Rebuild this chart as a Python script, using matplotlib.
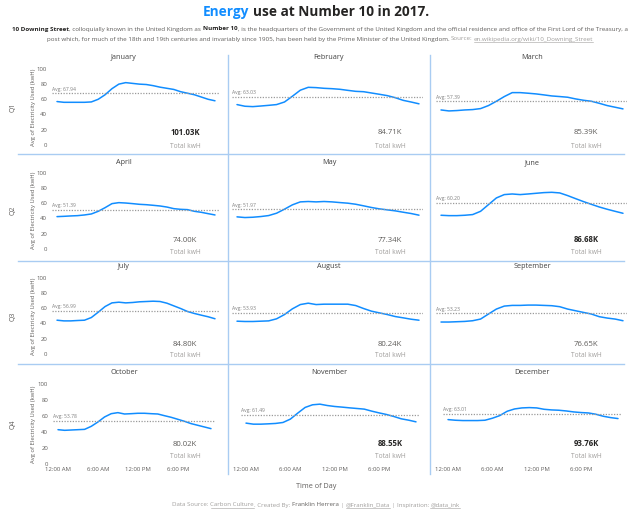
import matplotlib
matplotlib.use("Agg")
import matplotlib.pyplot as plt
from matplotlib.lines import Line2D

plt.rcParams['font.family'] = ['Open Sans', 'DejaVu Sans']

# -------------------------
# Data (hourly average kWh)
# -------------------------
hours = list(range(24))
months = ["January", "February", "March", "April", "May", "June",
          "July", "August", "September", "October", "November", "December"]
quarters = ["Q1", "Q2", "Q3", "Q4"]

jan = [57, 56, 56, 56, 56, 56.5, 60, 66, 74, 80, 82, 81, 80, 79.5, 78, 76, 74.5, 73, 70, 68, 66, 63, 60, 58]
feb = [53, 50.8, 50.3, 51.1, 52, 53, 56.4, 64, 72, 75.8, 75.4, 74.5, 74, 73.2, 71.8, 70.5, 70, 68.3, 66.6, 64.8, 62.1, 58.6, 56.4, 54]
mar = [45.9, 44.6, 45.1, 45.9, 46.4, 47.7, 51.7, 57.4, 63.6, 68.8, 68.8, 68, 67.1, 65.8, 64.4, 63.6, 62.7, 60.5, 58.7, 57.4, 54.7, 51.7, 49.5, 47.3]
apr = [42.2, 42.6, 43.1, 43.5, 44.4, 45.7, 49.2, 54, 59.3, 60.6, 60.1, 59.3, 58.4, 57.9, 57.1, 56.2, 54.8, 52.7, 51.8, 51.4, 49.2, 47.9, 46.1, 44.4]
may = [41.9, 41.0, 41.4, 42.3, 43.6, 46.7, 52, 57.7, 61.6, 62.1, 61.6, 62.1, 61.6, 60.7, 59.9, 58.5, 56.4, 54.2, 52.4, 51.1, 49.8, 48, 46.3, 44.1]
jun = [44, 43.5, 43.5, 44, 44.9, 49.2, 58, 66.8, 71.2, 72, 71.2, 72, 72.9, 73.8, 74.2, 73.4, 69.9, 65.9, 62, 58.4, 54.9, 51.9, 49.2, 46.6]
jul = [44.3, 43.4, 43.4, 43.9, 44.3, 47.8, 54.8, 62.2, 67, 67.9, 67, 67.5, 68.4, 68.8, 69.2, 68.8, 66.6, 63.1, 59.6, 55.7, 53.1, 50.9, 48.8, 46.2]
aug = [43, 42.6, 42.6, 43, 43.4, 46.1, 51.7, 59.2, 64.8, 66.6, 64.8, 65.3, 65.3, 65.3, 65.3, 63.5, 59.6, 56.1, 53.9, 51.7, 49.1, 47.4, 45.6, 44.3]
sep = [41.9, 41.9, 42.3, 42.7, 43.6, 45.8, 52.4, 58.9, 62.8, 63.7, 63.7, 64.1, 64.1, 63.7, 63.3, 62, 58.9, 56.7, 54.5, 52.4, 48.9, 47.1, 45.8, 43.6]
oct_ = [42.9, 42.1, 42.5, 42.9, 43.3, 47.1, 52.5, 58.8, 62.9, 64.2, 62.5, 62.9, 63.4, 63.4, 62.9, 62.5, 60.4, 58.4, 55.9, 53.4, 50.5, 48.4, 46.3, 44.2]
nov = [51.1, 49.8, 49.8, 50.2, 50.7, 51.9, 56.1, 63.6, 70.7, 74, 74.8, 73.1, 71.9, 71.1, 70.2, 69.4, 68.6, 66.1, 63.9, 61.9, 59.4, 56.5, 54.8, 52.7]
dec = [55.5, 54.7, 54.3, 54.3, 54.3, 54.7, 57.2, 60.5, 65.9, 68.8, 70.1, 70.5, 70.1, 68.4, 67.6, 67.2, 66.3, 65.1, 64.3, 63.8, 62.2, 59.7, 58, 56.8]
series = [jan, feb, mar, apr, may, jun, jul, aug, sep, oct_, nov, dec]

avgs = [67.94, 63.03, 57.39, 51.39, 51.97, 60.20, 56.99, 53.93, 53.23, 53.78, 61.49, 63.01]
totals = [101.03, 84.71, 85.39, 74.00, 77.34, 86.68, 84.80, 80.24, 76.65, 80.02, 88.55, 93.76]

tick_hours = [0, 6, 12, 18]
tick_labels = ["12:00 AM", "6:00 AM", "12:00 PM", "6:00 PM"]
y_ticks = [0, 20, 40, 60, 80, 100]

# -------------------------
# Layout (pixels)
# -------------------------
W, H = 640, 509
col_x = [(57, 215), (237, 419), (441, 623)]
col_x_last = [(58, 211), (246, 416), (448, 618)]
row_y = [(69, 144.7), (172.7, 248.7), (277.7, 354), (384, 464)]
title_y = [58, 162.7, 267, 373]
title_x = [124, 329, 532]
value_y = [133, 240, 344, 444]
kwh_y = [146, 252.7, 355.7, 456]
text_x = [185, 390, 586]

BLUE = '#118DFF'
DARK = '#252423'
GREY = '#605E5C'
LIGHT = '#A19F9D'
SEP = '#A9CCF2'


def fx(x):
    return x / W


def fy(y):
    return 1 - y / H


fig = plt.figure(figsize=(6.4, 5.09), dpi=100)
fig.patch.set_facecolor('white')

top4 = sorted(totals, reverse=True)[:4]

for i in range(12):
    r, c = divmod(i, 3)
    x0, x1 = (col_x_last if r == 3 else col_x)[c]
    yt, yb = row_y[r]
    pph = (x1 - x0) / 23
    ax = fig.add_axes([fx(x0 - 5), fy(yb), (x1 - x0 + 9) / W, (yb - yt) / H])
    ax.set_facecolor('none')
    ax.plot(hours, series[i], color=BLUE, lw=1.1, solid_joinstyle='round', solid_capstyle='round')
    ax.axhline(avgs[i], color='#9A9A9A', lw=0.9, ls=(0, (1, 1.2)))
    ax.set_xlim(-5 / pph, 23 + 4 / pph)
    ax.set_ylim(0, 100)
    for s in ax.spines.values():
        s.set_visible(False)
    ax.annotate(f"Avg: {avgs[i]:.2f}", xy=(0, avgs[i]), xycoords=('axes fraction', 'data'),
                xytext=(0, 1.2), textcoords='offset points', fontsize=3.6,
                color='#7F7F7F', ha='left', va='bottom')
    ax.tick_params(length=0, labelsize=4.3, labelcolor=GREY)
    if c == 0:
        ax.set_yticks(y_ticks)
        ax.tick_params(axis='y', pad=3.5)
        fig.text(fx(34), fy((yt + yb) / 2), "Avg of Electricity Used (kwH)", rotation=90,
                 fontsize=4.2, color=GREY, ha='center', va='center')
        fig.text(fx(13), fy((yt + yb) / 2), quarters[r], rotation=90,
                 fontsize=5, color=GREY, ha='center', va='center')
    else:
        ax.set_yticks([])
    if r == 3:
        ax.set_xticks(tick_hours)
        ax.set_xticklabels(tick_labels)
        ax.tick_params(axis='x', pad=2.5)
    else:
        ax.set_xticks([])

    fig.text(fx(title_x[c]), fy(title_y[r]), months[i], fontsize=5.2, color='#404040',
             ha='center', va='center')
    bold = totals[i] in top4
    fig.text(fx(text_x[c]), fy(value_y[r]), f"{totals[i]:.2f}K", fontsize=5.6,
             color=DARK if bold else GREY, fontweight='bold' if bold else 'normal',
             ha='center', va='center')
    fig.text(fx(text_x[c]), fy(kwh_y[r]), "Total kwH", fontsize=4.8, color=LIGHT,
             ha='center', va='center')

# separators
for yy in [154, 261, 364]:
    fig.add_artist(Line2D([fx(18), fx(624)], [fy(yy), fy(yy)], color=SEP, lw=1,
                          transform=fig.transFigure))
for xx in [227.5, 430]:
    fig.add_artist(Line2D([fx(xx), fx(xx)], [fy(55), fy(474)], color=SEP, lw=1,
                          transform=fig.transFigure))

fig.text(fx(316), fy(486.7), "Time of Day", fontsize=5.2, color=GREY, ha='center', va='center')

# -------------------------
# Mixed-style text lines
# -------------------------
renderer = fig.canvas.get_renderer()


def space_width(size, weight):
    a = fig.text(0, 0, "a a", fontsize=size, fontweight=weight)
    b = fig.text(0, 0, "aa", fontsize=size, fontweight=weight)
    w = a.get_window_extent(renderer).width - b.get_window_extent(renderer).width
    a.remove()
    b.remove()
    return w


def draw_runs(runs, xc, y, size):
    items = []
    total = 0
    prev_trailing = False
    for raw, color, weight, under in runs:
        lead = raw[:1] == " " or prev_trailing
        prev_trailing = raw[-1:] == " "
        t = fig.text(0, fy(y), raw.strip(), fontsize=size, color=color, fontweight=weight,
                     ha='left', va='center')
        w = t.get_window_extent(renderer).width
        gap = space_width(size, weight) if (lead and items) else 0
        items.append((t, w, gap, under, color))
        total += w + gap
    x = xc - total / 2
    for t, w, gap, under, color in items:
        x += gap
        t.set_x(fx(x))
        if under:
            fig.add_artist(Line2D([fx(x), fx(x + w)], [fy(y + size * 0.7)] * 2, lw=0.4,
                                  color=color, transform=fig.transFigure))
        x += w
    return total


draw_runs([("Energy", BLUE, 'bold', False),
           (" use at Number 10 in 2017.", DARK, 'bold', False)], 316, 12, 9.8)

draw_runs([("10 Downing Street", DARK, 'bold', False),
           (", colloquially known in the United Kingdom as ", GREY, 'normal', False),
           ("Number 10", DARK, 'bold', False),
           (", is the headquarters of the Government of the United Kingdom and the official "
            "residence and office of the First Lord of the Treasury, a", GREY, 'normal', False)],
          320, 29, 4.48)
draw_runs([("post which, for much of the 18th and 19th centuries and invariably since 1905, "
            "has been held by the Prime Minister of the United Kingdom.", GREY, 'normal', False),
           (" Source:", LIGHT, 'normal', False),
           (" en.wikipedia.org/wiki/10_Downing_Street", LIGHT, 'normal', True)],
          320, 39, 4.48)

draw_runs([("Data Source:", LIGHT, 'normal', False),
           (" Carbon Culture", LIGHT, 'normal', True),
           (". Created By:", LIGHT, 'normal', False),
           (" Franklin Herrera", GREY, 'normal', False),
           (" |", LIGHT, 'normal', False),
           (" @Franklin_Data", LIGHT, 'normal', True),
           (" | Inspiration:", LIGHT, 'normal', False),
           (" @data_ink", LIGHT, 'normal', True)],
          316, 505, 4.4)

fig.savefig("out.png", dpi=100, facecolor='white')
